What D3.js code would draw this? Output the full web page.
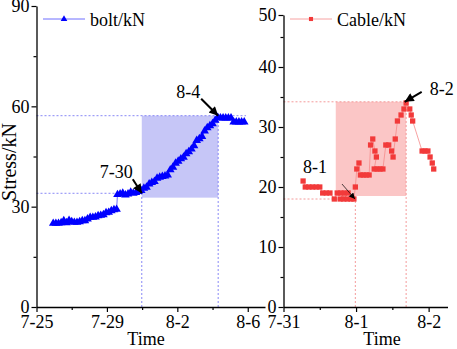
<!DOCTYPE html>
<html>
<head>
<meta charset="utf-8">
<script src="https://cdn.jsdelivr.net/npm/d3@7"></script>
<style>
  html, body { margin: 0; padding: 0; background: #fff; }
  svg { display: block; }
</style>
</head>
<body>
<div id="chart"></div>
<script>
// bolt: days after 7-25, stress in kN
const boltDays = [0.95, 1.1, 1.25, 1.4, 1.55, 1.7, 1.85, 2.0, 2.15, 2.3, 2.45, 2.6, 2.75, 2.9, 3.05, 3.2, 3.35, 3.5, 3.65, 3.8,
  3.95, 4.1, 4.25, 4.4, 4.55, 4.6, 4.75, 4.9, 5.05, 5.2, 5.35, 5.5, 5.65, 5.8, 5.95, 6.1, 6.25, 6.4, 6.55, 6.7,
  6.85, 7.0, 7.15, 7.3, 7.45, 7.6, 7.75, 7.9, 8.05, 8.2, 8.35, 8.5, 8.65, 8.8, 8.95, 9.1, 9.25, 9.4, 9.55, 9.7,
  9.85, 10.0, 10.15, 10.3, 10.45, 10.6, 10.75, 10.9, 11.05, 11.2, 11.35, 11.5, 11.65, 11.8];
const boltValues = [25.0, 25.0, 25.0, 25.2, 25.8, 25.2, 25.9, 25.5, 25.3, 25.3, 25.5, 25.8, 25.8, 26.3, 26.8, 26.8, 26.9, 27.3, 27.4, 27.6,
  28.2, 28.3, 28.8, 29.1, 29.2, 33.6, 33.8, 34.0, 33.5, 33.8, 34.3, 34.0, 34.2, 34.5, 34.8, 35.5, 35.8, 36.8, 37.2, 37.5,
  38.5, 38.8, 39.0, 39.2, 39.5, 41.0, 41.8, 43.0, 43.6, 44.3, 44.8, 45.8, 46.4, 47.2, 48.2, 49.8, 50.3, 51.0, 52.6, 53.6,
  54.2, 54.8, 55.8, 56.7, 56.5, 56.5, 56.5, 56.5, 56.5, 55.3, 55.3, 55.3, 55.3, 55.3];

// cable: days after 7-31, stress in kN
const cableDays = [0.27, 0.30, 0.35, 0.40, 0.45, 0.50, 0.54, 0.59, 0.64, 0.70, 0.74, 0.79, 0.84, 0.89, 0.78, 0.83, 0.88, 0.93, 0.97,
  0.99, 1.01, 1.04, 1.06, 1.10, 1.14, 1.18, 1.20, 1.23, 1.26, 1.28, 1.25, 1.29, 1.33, 1.37, 1.41, 1.45, 1.49, 1.51, 1.54,
  1.57, 1.62, 1.66, 1.69, 1.74, 1.76, 1.78, 1.91, 1.95, 1.99, 2.02, 2.05, 2.07];
const cableValues = [21, 20, 20, 20, 20, 20, 19, 19, 19, 18, 19, 19, 19, 19, 18, 18, 18, 18, 18,
  20, 23, 24, 22, 22, 22, 22, 27, 28, 26, 25, 23, 23, 23, 23, 27, 27, 26, 25, 28,
  31, 32, 33, 34, 33, 32, 31, 26, 26, 26, 25, 24, 23];

const leftTicks = [0, 4, 8, 12];
const leftTickLabels = ["7-25", "7-29", "8-2", "8-6"];
const rightTicks = [0, 1, 2];
const rightTickLabels = ["7-31", "8-1", "8-2"];

// highlighted windows: [day start, day end, stress low, stress high]
const boltWindow = [5.98, 10.32, 32.7, 57.2];
const cableWindow = [0.72, 1.69, 18.5, 34.2];

const W = 457, H = 349;
const font = "'Liberation Serif', 'Times New Roman', serif";

const svg = d3.select("#chart").append("svg")
  .attr("width", W).attr("height", H)
  .style("font-family", font);

const defs = svg.append("defs");
defs.append("marker")
    .attr("id", "head")
    .attr("markerUnits", "userSpaceOnUse")
    .attr("viewBox", "0 0 10 10")
    .attr("refX", 10).attr("refY", 5)
    .attr("markerWidth", 11).attr("markerHeight", 9)
    .attr("orient", "auto")
  .append("path").attr("d", "M0,0 L10,5 L0,10 Z").attr("fill", "#000");
defs.append("marker")
    .attr("id", "headSmall")
    .attr("markerUnits", "userSpaceOnUse")
    .attr("viewBox", "0 0 10 10")
    .attr("refX", 10).attr("refY", 5)
    .attr("markerWidth", 7).attr("markerHeight", 6)
    .attr("orient", "auto")
  .append("path").attr("d", "M0,0 L10,5 L0,10 Z").attr("fill", "#000");

function drawPanel(opts) {
  const { x, y, yMajor, yMinor, xMajor, xMinor, xLabels, days, values,
          color, lineColor, shade, dash, symbol, symSize, win, legend, notes, timeX } = opts;
  const g = svg.append("g");

  // shaded window and guide lines
  const [d0, d1, v0, v1] = win;
  g.append("rect")
    .attr("x", x(d0)).attr("y", y(v1))
    .attr("width", x(d1) - x(d0)).attr("height", y(v0) - y(v1))
    .attr("fill", shade);
  const guides = opts.guides;
  g.selectAll("line.guide").data(guides).join("line")
    .attr("class", "guide")
    .attr("x1", d => x(d[0])).attr("y1", d => y(d[1]))
    .attr("x2", d => x(d[2])).attr("y2", d => y(d[3]))
    .attr("stroke", dash).attr("stroke-width", 0.9)
    .attr("stroke-dasharray", "2,2");

  // axes
  g.append("g").attr("transform", `translate(${x.range()[0]},0)`)
    .call(d3.axisLeft(y).tickValues(yMajor).tickSize(5).tickPadding(2).tickSizeOuter(0));
  g.append("g").attr("transform", `translate(${x.range()[0]},0)`)
    .call(d3.axisLeft(y).tickValues(yMinor).tickSize(3).tickFormat("").tickSizeOuter(0))
    .select(".domain").remove();
  g.append("g").attr("transform", `translate(0,${y(0)})`)
    .call(d3.axisBottom(x).tickValues(xMajor).tickSize(5).tickPadding(3).tickSizeOuter(0)
      .tickFormat((d, i) => xLabels[i]));
  g.append("g").attr("transform", `translate(0,${y(0)})`)
    .call(d3.axisBottom(x).tickValues(xMinor).tickSize(3).tickFormat("").tickSizeOuter(0))
    .select(".domain").remove();
  g.selectAll(".tick text").attr("font-family", font).attr("font-size", 18).attr("fill", "#000");
  g.selectAll(".domain").attr("stroke-width", 1.3);
  g.selectAll(".tick line").attr("stroke-width", 1.2);

  g.append("text")
    .attr("x", timeX).attr("y", 345)
    .attr("text-anchor", "middle").attr("font-size", 18)
    .text("Time");

  // series
  const pts = days.map((d, i) => [d, values[i]]);
  g.append("path")
    .datum(pts)
    .attr("fill", "none").attr("stroke", lineColor).attr("stroke-width", 0.8)
    .attr("d", d3.line().x(p => x(p[0])).y(p => y(p[1])));
  g.selectAll("path.pt").data(pts).join("path")
    .attr("class", "pt")
    .attr("transform", p => `translate(${x(p[0])},${y(p[1])})`)
    .attr("d", d3.symbol(symbol, symSize))
    .attr("fill", color);

  // legend
  const lg = g.append("g").attr("transform", `translate(${legend.x},19)`);
  lg.append("line").attr("x1", 0).attr("x2", 42).attr("stroke", lineColor).attr("stroke-width", 0.8);
  lg.append("path").attr("transform", "translate(21,0)")
    .attr("d", d3.symbol(symbol, symSize * 0.6)).attr("fill", color);
  lg.append("text").attr("x", 47).attr("y", 6.5).attr("font-size", 18).text(legend.label);

  // annotations
  notes.forEach(n => {
    const tx = x(n.d), ty = y(n.v);
    g.append("line")
      .attr("x1", tx + n.dx).attr("y1", ty + n.dy)
      .attr("x2", tx).attr("y2", ty)
      .attr("stroke", "#000").attr("stroke-width", n.thin ? 0.7 : 2)
      .attr("marker-end", n.thin ? "url(#headSmall)" : "url(#head)");
    g.append("text")
      .attr("x", tx + n.lx).attr("y", ty + n.ly)
      .attr("font-size", 18).text(n.label);
  });
}

const xl = d3.scaleLinear().domain([0, 12.98]).range([36.5, 265]);
const yl = d3.scaleLinear().domain([0, 90]).range([307, 6]);
drawPanel({
  x: xl, y: yl,
  yMajor: [0, 30, 60, 90], yMinor: [15, 45, 75],
  xMajor: leftTicks, xMinor: [2, 6, 10], xLabels: leftTickLabels,
  days: boltDays, values: boltValues,
  color: "#0000ff", lineColor: "#4a4aff", shade: "#c6c6f7", dash: "#7a7af5",
  symbol: d3.symbolTriangle, symSize: 32,
  win: boltWindow,
  guides: [
    [0, 34, boltWindow[0], 34],
    [0, boltWindow[3], 11.9, boltWindow[3]],
    [boltWindow[0], 0, boltWindow[0], 34],
    [boltWindow[1], 0, boltWindow[1], boltWindow[3]]
  ],
  legend: { x: 43, label: "bolt/kN" },
  notes: [
    { label: "7-30", d: 5.98, v: 34, dx: -9, dy: -14, lx: -42, ly: -15 },
    { label: "8-4", d: 10.32, v: 57.2, dx: -17, dy: -17, lx: -42, ly: -18 }
  ],
  timeX: 146
});

const xr = d3.scaleLinear().domain([0, 2.26]).range([283.5, 447.5]);
const yr = d3.scaleLinear().domain([0, 45, 50]).range([307, 37, 15]);
drawPanel({
  x: xr, y: yr,
  yMajor: [0, 10, 20, 30, 40, 50], yMinor: [5, 15, 25, 35, 45],
  xMajor: rightTicks, xMinor: [0.5, 1.5], xLabels: rightTickLabels,
  days: cableDays, values: cableValues,
  color: "#f23a3a", lineColor: "#f58a8a", shade: "#fbc6c6", dash: "#f39090",
  symbol: d3.symbolSquare, symSize: 28,
  win: cableWindow,
  guides: [
    [0, 18, 0.99, 18],
    [0, cableWindow[3], cableWindow[1], cableWindow[3]],
    [0.99, 0, 0.99, 18],
    [cableWindow[1], 0, cableWindow[1], cableWindow[3]]
  ],
  legend: { x: 290, label: "Cable/kN" },
  notes: [
    { label: "8-1", d: 0.985, v: 18, dx: -13, dy: -15, lx: -52, ly: -26, thin: true },
    { label: "8-2", d: 1.67, v: 34.2, dx: 17, dy: -10, lx: 25, ly: -7 }
  ],
  timeX: 382
});

svg.append("text")
  .attr("transform", "translate(16,162) rotate(-90)")
  .attr("text-anchor", "middle").attr("font-size", 20)
  .text("Stress/kN");
</script>
</body>
</html>
